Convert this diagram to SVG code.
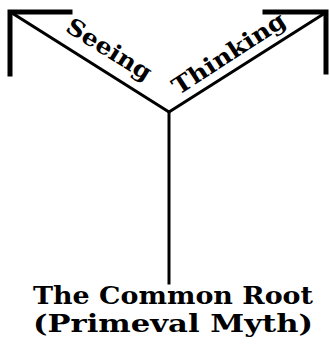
<svg xmlns="http://www.w3.org/2000/svg" width="330" height="345" viewBox="0 0 330 345">
<style>
.ln{stroke:#000;fill:none;stroke-linecap:square}
.lbl{font-family:"DejaVu Serif","Liberation Serif",serif;font-weight:bold;fill:#000}
</style>
<rect width="330" height="345" fill="#fff"/>
<g id="connectors">
<path class="ln" d="M12,13 L169,112 L325,13" stroke-width="3"/>
<path class="ln" d="M169,112 L169,283" stroke-width="3"/>
<path class="ln" d="M10,74 L10,12 L70,12" stroke-width="5" stroke-linejoin="miter"/>
<path class="ln" d="M265,12 L326,12 L326,72" stroke-width="5" stroke-linejoin="miter"/>
</g>
<g id="seeing">
<text class="lbl" transform="translate(105,56) rotate(32)" text-anchor="middle" font-size="23" textLength="96" lengthAdjust="spacingAndGlyphs">Seeing</text>
</g>
<g id="thinking">
<text class="lbl" transform="translate(233,60) rotate(-33)" text-anchor="middle" font-size="23" textLength="130" lengthAdjust="spacingAndGlyphs">Thinking</text>
</g>
<g id="root">
<text class="lbl" x="173" y="304" text-anchor="middle" font-size="24" textLength="280" lengthAdjust="spacingAndGlyphs">The Common Root</text>
<text class="lbl" x="173" y="332" text-anchor="middle" font-size="24" textLength="280" lengthAdjust="spacingAndGlyphs">(Primeval  Myth)</text>
</g>
</svg>
